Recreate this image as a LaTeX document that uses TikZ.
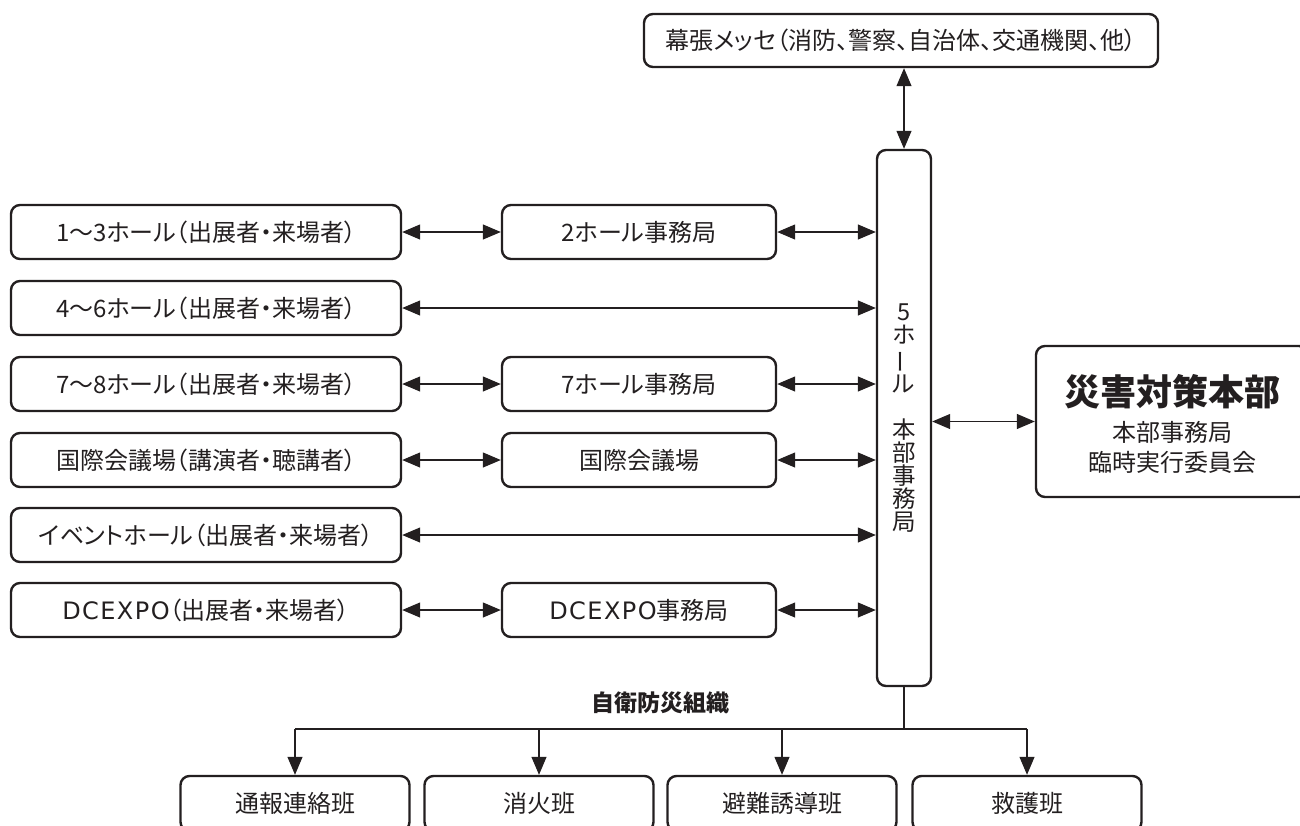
\documentclass[tikz,border=0pt]{standalone}
\usepackage{fontspec}
\usepackage{graphicx}
\setmainfont{Noto Sans CJK JP}[RawFeature={+palt}]
\newfontfamily\latfont{DejaVu Sans}[LetterSpace=6]
\usetikzlibrary{arrows.meta}
\definecolor{ink}{RGB}{35,31,32}
\tikzset{
  box/.style={draw=ink, line width=2.4pt, rounded corners=9pt, inner sep=0pt,
    text=ink, font=\fontsize{24}{28}\selectfont},
  leftbox/.style={box, minimum width=390, minimum height=54},
  midbox/.style={box, minimum width=274, minimum height=54},
  teambox/.style={box, minimum width=229, minimum height=55},
  wire/.style={draw=ink, line width=1.2pt},
  link/.style={wire, {Triangle[length=18pt,width=15pt]}-{Triangle[length=18pt,width=15pt]}},
  downarrow/.style={wire, -{Triangle[length=18pt,width=15pt]}},
  plain/.style={text=ink, inner sep=0pt},
}
\begin{document}
\begin{tikzpicture}[x=1pt,y=-1pt]
\useasboundingbox (0,0) rectangle (1300,825);
\clip (0,0) rectangle (1300,825);

% top box
\node[box, minimum width=514, minimum height=53] (mk) at (901,40.5) {幕張メッセ（消防、警察、自治体、交通機関、他）};

% central column
\node[box, minimum width=54, minimum height=536, align=center,
      font=\fontsize{23.5}{23}\selectfont] (col) at (904,418)
  {5\\ホ\\\rotatebox[origin=c]{90}{ー}\\ル\\\mbox{}\\本\\部\\事\\務\\局};

% left boxes
\node[leftbox] (l1) at (206,232) {1〜3ホール（出展者・来場者）};
\node[leftbox] (l2) at (206,308) {4〜6ホール（出展者・来場者）};
\node[leftbox] (l3) at (206,384) {7〜8ホール（出展者・来場者）};
\node[leftbox] (l4) at (206,460) {国際会議場（講演者・聴講者）};
\node[leftbox] (l5) at (206,535) {イベントホール（出展者・来場者）};
\node[leftbox] (l6) at (206,610) {{\latfont DCEXPO}（出展者・来場者）};

% middle boxes
\node[midbox] (m1) at (639,232) {2ホール事務局};
\node[midbox] (m3) at (639,384) {7ホール事務局};
\node[midbox] (m4) at (639,460) {国際会議場};
\node[midbox] (m6) at (639,610) {{\latfont DCEXPO}事務局};

% right box
\node[box, minimum width=272, minimum height=151] (hq) at (1172,421.5) {};
\node[plain, font=\fontsize{36}{36}\selectfont\bfseries] (hqt) at (1172,392) {災害対策本部};
\node[plain, font=\fontsize{24}{24}\selectfont] (hqs1) at (1172,432) {本部事務局};
\node[plain, font=\fontsize{24}{24}\selectfont] (hqs2) at (1172,462) {臨時実行委員会};

% bottom team boxes
\node[teambox] (b1) at (295,803.5) {通報連絡班};
\node[teambox] (b2) at (539,803.5) {消火班};
\node[teambox] (b3) at (782,803.5) {避難誘導班};
\node[teambox] (b4) at (1027,803.5) {救護班};
\node[plain, font=\fontsize{23}{23}\selectfont\bfseries] (org) at (660,703) {自衛防災組織};

% connectors
\draw[link] (col.north |- mk.south) -- (col.north);
\draw[link] (l1.east) -- (m1.west);
\draw[link] (m1.east) -- (m1.east -| col.west);
\draw[link] (l2.east) -- (l2.east -| col.west);
\draw[link] (l3.east) -- (m3.west);
\draw[link] (m3.east) -- (m3.east -| col.west);
\draw[link] (l4.east) -- (m4.west);
\draw[link] (m4.east) -- (m4.east -| col.west);
\draw[link] (l5.east) -- (l5.east -| col.west);
\draw[link] (l6.east) -- (m6.west);
\draw[link] (m6.east) -- (m6.east -| col.west);
\draw[link] (col.east |- hq.west) -- (hq.west);

\coordinate (j) at (904,729);
\draw[wire] (col.south) -- (j);
\draw[wire] (b1.north |- j) -- (b4.north |- j);
\draw[downarrow] (b1.north |- j) -- (b1.north);
\draw[downarrow] (b2.north |- j) -- (b2.north);
\draw[downarrow] (b3.north |- j) -- (b3.north);
\draw[downarrow] (b4.north |- j) -- (b4.north);
\end{tikzpicture}
\end{document}
